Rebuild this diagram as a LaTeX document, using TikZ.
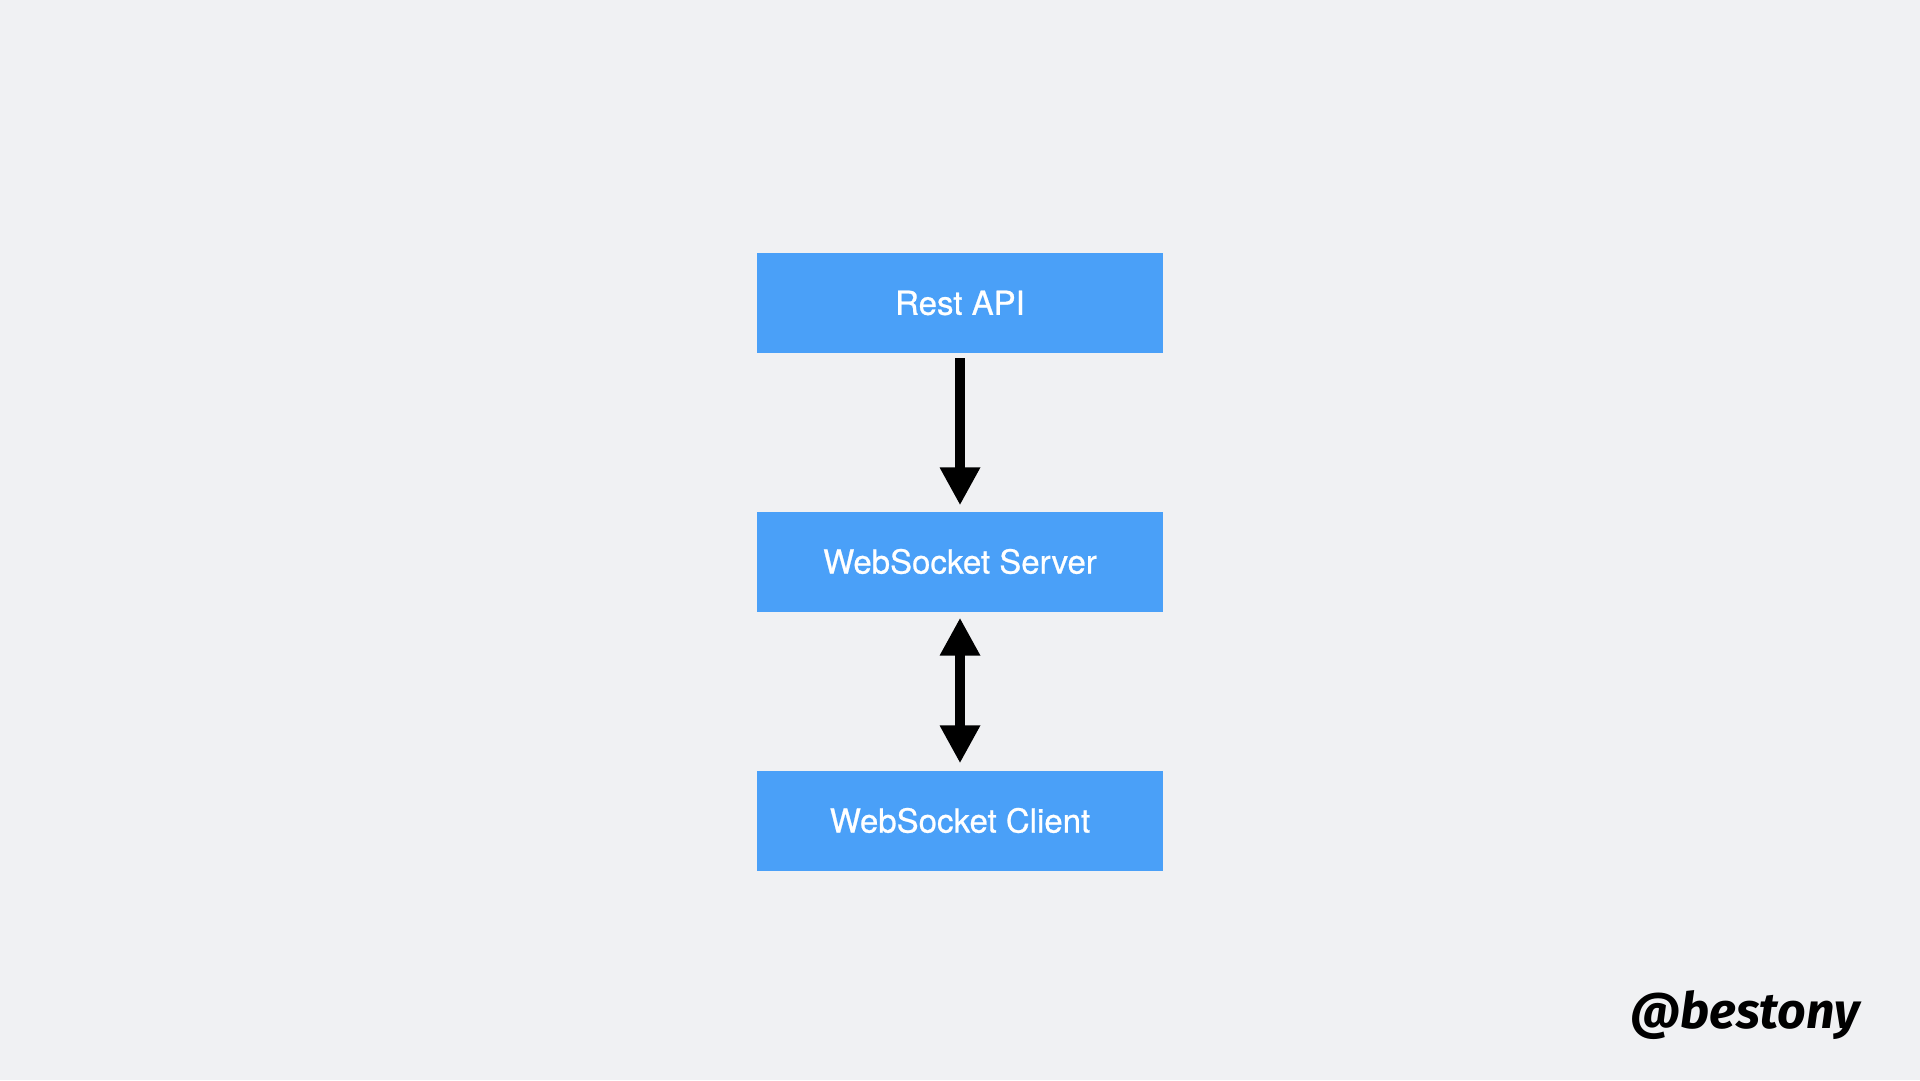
\documentclass[tikz,border=0pt]{standalone}
\usepackage{fontspec}
\setmainfont{TeX Gyre Heros}
\newfontfamily\boxfont{TeX Gyre Heros}[FakeBold=0.7]
\newfontfamily\handlefont{Fira Sans}
\usepackage{xcolor}
\usetikzlibrary{arrows.meta}

\definecolor{slidebg}{RGB}{240,241,243}
\definecolor{boxblue}{RGB}{74,160,248}

\tikzset{
	flowbox/.style={fill=boxblue, draw=none, minimum width=406pt, minimum height=100pt, inner sep=0pt, text=white, font=\boxfont\fontsize{33}{38}\selectfont},
	flowarrow/.style={line width=10pt, -{Triangle[length=38pt,width=38pt]}},
	twoway/.style={line width=10pt, {Triangle[length=38pt,width=38pt]}-{Triangle[length=38pt,width=38pt]}}
}

\begin{document}
\begin{tikzpicture}[x=1pt,y=1pt,yscale=-1,xscale=1]
		%Shape: Background
		\fill[slidebg] (0,0) rectangle (1920,1080);
		\useasboundingbox (0,0) rectangle (1920,1080);
		
		%Shape: Rectangle [id:rest]
		\node[flowbox] (rest) at (960,303) {Rest API};
		%Shape: Rectangle [id:server]
		\node[flowbox] (server) at (960,561.5) {WebSocket Server};
		%Shape: Rectangle [id:client]
		\node[flowbox] (client) at (960,820.5) {WebSocket Client};
		
		%Straight Lines [id:rest-server]
		\draw[flowarrow, shorten <=5pt, shorten >=6pt] (rest.south) -- (server.north);
		%Straight Lines [id:server-client]
		\draw[twoway, shorten <=6pt, shorten >=7pt] (server.south) -- (client.north);
		
		% Text Node
		\node[anchor=base east, inner sep=0pt, font=\handlefont\bfseries\itshape\fontsize{50}{56}\selectfont] (handle) at (1860,1028) {@bestony};
		
\end{tikzpicture}
\end{document}
